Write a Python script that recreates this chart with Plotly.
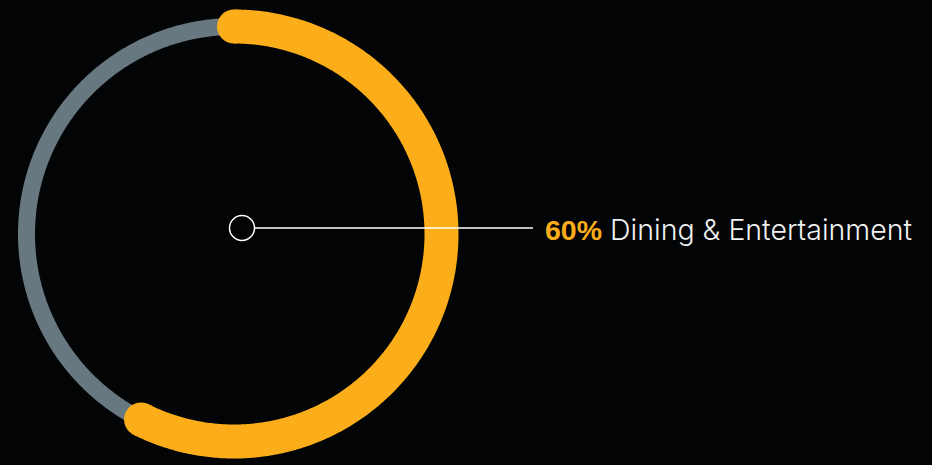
import numpy as np
import plotly.graph_objects as go

# Data
categories = ["Dining & Entertainment"]
values = [60]  # percent

# Styling
BG = "#030405"
ORANGE = "#FBAE1A"
GREY = "#687880"
W, H = 932, 465

cx, cy = 234, 234          # ring centre (px)
r_mid = 207.5              # ring midline radius
band = 34                  # highlighted arc thickness
track = 17                 # background track thickness


def ring_xy(theta_deg, r):
    t = np.radians(theta_deg)
    return cx + r * np.sin(t), cy - r * np.cos(t)


fig = go.Figure()

# Full background track
th = np.linspace(0, 360, 721)
tx, ty = ring_xy(th, r_mid)
fig.add_trace(go.Scatter(x=tx, y=ty, mode="lines",
                         line=dict(color=GREY, width=track, simplify=False),
                         hoverinfo="skip", showlegend=False))

# Highlighted arc: total visual sweep (caps included) equals the share of 360 degrees
cap_deg = np.degrees((band / 2) / r_mid)
sweep = values[0] / 100 * 360 - 2 * cap_deg
th = np.linspace(0, sweep, 400)
ax_, ay_ = ring_xy(th, r_mid)
fig.add_trace(go.Scatter(x=ax_, y=ay_, mode="lines",
                         line=dict(color=ORANGE, width=band, simplify=False),
                         hoverinfo="skip", showlegend=False))
# Rounded ends
ex, ey = ring_xy(np.array([0, sweep]), r_mid)
fig.add_trace(go.Scatter(x=ex, y=ey, mode="markers",
                         marker=dict(color=ORANGE, size=band, line=dict(width=0)),
                         hoverinfo="skip", showlegend=False))

# Callout: hollow dot and leader line
dot_x, dot_y, dot_r = 242, 228, 12.5
fig.add_shape(type="line", x0=dot_x + dot_r, y0=dot_y, x1=533, y1=dot_y,
              line=dict(color="#FFFFFF", width=1.5))
fig.add_shape(type="circle", x0=dot_x - dot_r, y0=dot_y - dot_r,
              x1=dot_x + dot_r, y1=dot_y + dot_r,
              line=dict(color="#FFFFFF", width=1.5), fillcolor=BG)

fig.add_annotation(
    x=543, y=dot_y + 1, xanchor="left", yanchor="middle", showarrow=False,
    text=(f"<span style='color:{ORANGE};font-family:Liberation Sans;font-weight:700'>"
          f"{values[0]}%</span> {categories[0]}"),
    font=dict(family="Inter", size=28.5, color="#F2F2F2", weight=300),
)

fig.update_xaxes(range=[0, W], visible=False, fixedrange=True)
fig.update_yaxes(range=[H, 0], visible=False, fixedrange=True)
fig.update_layout(width=W, height=H, margin=dict(l=0, r=0, t=0, b=0),
                  paper_bgcolor=BG, plot_bgcolor=BG)

fig.write_html("out.html")
